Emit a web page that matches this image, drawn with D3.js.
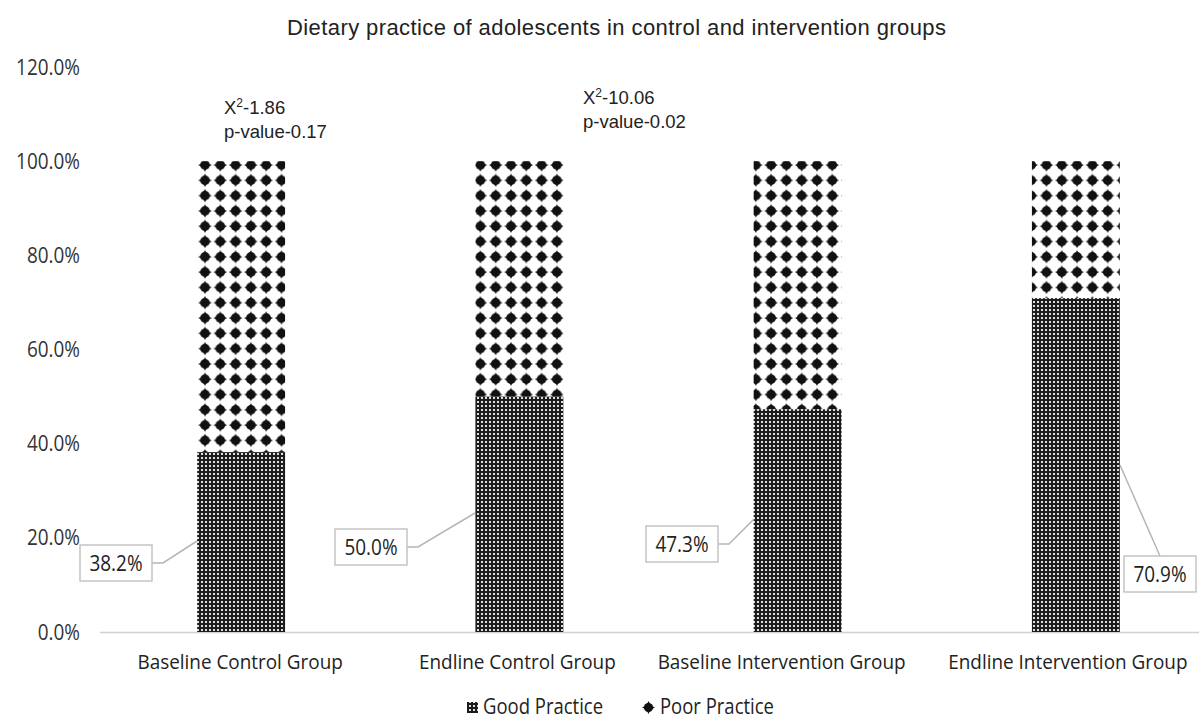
<!DOCTYPE html>
<html><head><meta charset="utf-8">
<script src="https://cdn.jsdelivr.net/npm/d3@7"></script>
<style>body{margin:0;background:#fff}svg{display:block}</style>
</head><body>
<svg id="c" width="1202" height="718"></svg>
<script>
const categories = ["Baseline Control Group","Endline Control Group","Baseline Intervention Group","Endline Intervention Group"];
const goodPractice = [38.2, 50.0, 47.3, 70.9];
const poorPractice = [61.8, 50.0, 52.7, 29.1];
const yTicks = [0, 20, 40, 60, 80, 100, 120];
const seriesNames = ["Good Practice", "Poor Practice"];
const annotations = [
  {cat: 0, chi: "-1.86", p: "p-value-0.17"},
  {cat: 1, chi: "-10.06", p: "p-value-0.02"}
];
// label box placement (styling offsets, not data)
const labelBoxes = [
  {bx: 80, by: 545, ax: 197, ay: 541},
  {bx: 335, by: 529, ax: 475, ay: 513},
  {bx: 646, by: 526, ax: 754, ay: 519},
  {bx: 1124, by: 556, ax: 1120, ay: 465}
];

const svg = d3.select("#c");
const CAL = "Open Sans, sans-serif";
function squeeze(f){ return sel => sel.each(function(){ const w=this.getComputedTextLength(); d3.select(this).attr("textLength", w*f).attr("lengthAdjust","spacingAndGlyphs"); }); }

const x = d3.scaleBand().domain(categories).range([102, 1215]).paddingInner(0.684).paddingOuter(0.342);
const y = d3.scaleLinear().domain([0, 120]).range([632, 67]);

const defs = svg.append("defs");
const pg = defs.append("pattern").attr("id","good").attr("patternUnits","userSpaceOnUse")
  .attr("width",4).attr("height",4);
pg.append("rect").attr("width",4).attr("height",4).attr("fill","#1c1c1c");
pg.append("rect").attr("x",1).attr("y",1).attr("width",2).attr("height",2).attr("fill","#ffffff").attr("opacity",0.85);

const P = 15.3, h = P/2;
const pp = defs.append("pattern").attr("id","poor").attr("patternUnits","userSpaceOnUse")
  .attr("width",P).attr("height",P).attr("x",197.35).attr("y",157.35);
pp.append("rect").attr("width",P).attr("height",P).attr("fill","#fff");
const dpath = (cx,cy,r)=>`M${cx},${cy-r} Q${cx+1.8},${cy-1.8} ${cx+r},${cy} Q${cx+1.8},${cy+1.8} ${cx},${cy+r} Q${cx-1.8},${cy+1.8} ${cx-r},${cy} Q${cx-1.8},${cy-1.8} ${cx},${cy-r}Z`;
pp.append("circle").attr("cx",h).attr("cy",h).attr("r",4.8).attr("fill","#111");
pp.append("path").attr("d",dpath(h,h,6.8)).attr("fill","#111");

// title
svg.append("text").attr("x",616.5).attr("y",35).attr("text-anchor","middle")
  .attr("font-family","Liberation Sans, Arial, sans-serif").attr("font-size",22).attr("fill","#222")
  .attr("textLength",659).attr("lengthAdjust","spacing")
  .text("Dietary practice of adolescents in control and intervention groups");

// y tick labels
svg.append("g").selectAll("text").data(yTicks).join("text")
  .attr("x",80).attr("y",d=>y(d)+7.5).attr("text-anchor","end")
  .attr("font-family",CAL).attr("font-size",21.5).attr("fill","#333")
  .text(d=>d.toFixed(1)+"%").call(squeeze(0.88));

// baseline axis
svg.append("line").attr("x1",100).attr("x2",1199).attr("y1",y(0)+0.5).attr("y2",y(0)+0.5)
  .attr("stroke","#d0d0d0").attr("stroke-width",1.3);

// bars
const stack = categories.map((c,i)=>({c, g: goodPractice[i], p: poorPractice[i]}));
svg.append("g").selectAll("rect").data(stack).join("rect")
  .attr("x",d=>x(d.c)).attr("width",x.bandwidth())
  .attr("y",d=>y(d.g+d.p)).attr("height",d=>y(d.g)-y(d.g+d.p))
  .attr("fill","url(#poor)");
svg.append("g").selectAll("rect").data(stack).join("rect")
  .attr("x",d=>x(d.c)).attr("width",x.bandwidth())
  .attr("y",d=>y(d.g)).attr("height",d=>y(0)-y(d.g))
  .attr("fill","url(#good)");

// category labels
const catOff = [-1, -2, -16, -8];
svg.append("g").selectAll("text").data(categories).join("text")
  .attr("x",(d,i)=>x(d)+x.bandwidth()/2+catOff[i]).attr("y",669).attr("text-anchor","middle")
  .attr("font-family",CAL).attr("font-size",20).attr("fill","#222")
  .text(d=>d).call(squeeze(0.945));

// data labels with leader lines
const lg = svg.append("g");
goodPractice.forEach((v,i)=>{
  const b = labelBoxes[i];
  const bwid = 72, bh = 36;
  let pts;
  if (i < 3) pts = [[b.bx+bwid, b.by+bh/2],[b.bx+bwid+11, b.by+bh/2],[b.ax,b.ay]];
  else pts = [[b.ax,b.ay],[b.bx+36,b.by]];
  lg.append("path").attr("d",d3.line()(pts)).attr("fill","none").attr("stroke","#b5b5b5").attr("stroke-width",1.5);
  lg.append("rect").attr("x",b.bx).attr("y",b.by).attr("width",bwid).attr("height",bh)
    .attr("fill","#fff").attr("stroke","#c4c4c4").attr("stroke-width",1.5);
  lg.append("text").attr("x",b.bx+bwid/2).attr("y",b.by+bh/2+7.5).attr("text-anchor","middle")
    .attr("font-family",CAL).attr("font-size",21.5).attr("fill","#222")
    .text(v.toFixed(1)+"%").call(squeeze(0.88));
});

// annotations
const annPos = [{x:224,y:114},{x:583,y:104}];
annotations.forEach((a,i)=>{
  const t = svg.append("text").attr("x",annPos[i].x).attr("y",annPos[i].y)
    .attr("font-family","Liberation Sans, Arial, sans-serif").attr("font-size",18.5).attr("fill","#222");
  t.append("tspan").text("X");
  t.append("tspan").attr("dy",-7).attr("font-size",12).text("2");
  t.append("tspan").attr("dy",7).text(a.chi);
  svg.append("text").attr("x",annPos[i].x).attr("y",annPos[i].y+24)
    .attr("font-family","Liberation Sans, Arial, sans-serif").attr("font-size",18.5).attr("fill","#222")
    .text(a.p);
});

// legend
const leg = svg.append("g");
leg.append("rect").attr("x",467).attr("y",702).attr("width",11).attr("height",11).attr("fill","url(#good)");
leg.append("text").attr("x",483).attr("y",713.5).attr("font-family",CAL).attr("font-size",21).attr("fill","#222").text(seriesNames[0]).call(squeeze(0.88));
leg.append("circle").attr("cx",648.5).attr("cy",707.5).attr("r",4.6).attr("fill","#111");
leg.append("path").attr("d",dpath(648.5,707.5,6.5)).attr("fill","#111");
leg.append("text").attr("x",660).attr("y",713.5).attr("font-family",CAL).attr("font-size",21).attr("fill","#222").text(seriesNames[1]).call(squeeze(0.88));
</script>
</body></html>
